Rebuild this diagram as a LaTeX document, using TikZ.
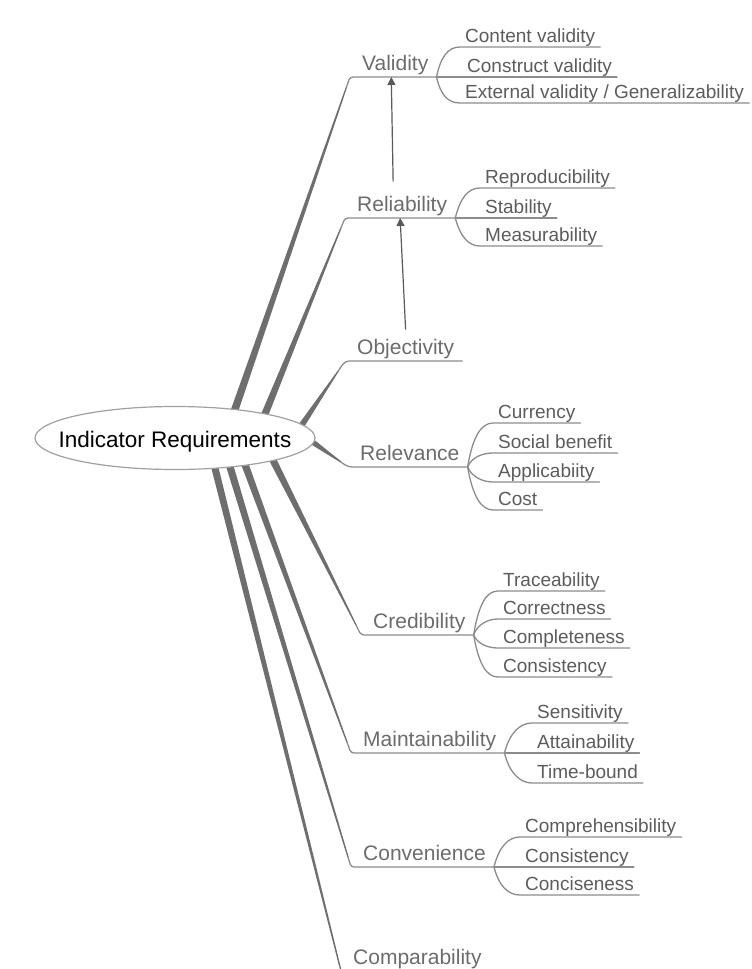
\documentclass[tikz,border=0pt]{standalone}
\usepackage{fontspec}
\setmainfont{Liberation Sans}
\usetikzlibrary{shapes.geometric,calc,arrows.meta}
\definecolor{branchgray}{HTML}{6E6E6E}
\definecolor{linegray}{HTML}{8C8C8C}
\definecolor{labgray}{HTML}{6C6C6C}
\definecolor{subgray}{HTML}{5C5C5C}
\definecolor{ellgray}{HTML}{A0A0A0}
\definecolor{arrgray}{HTML}{5A5A5A}
% tapered thick branch, horizontal half-widths
\newcommand\taperx[4]{%
  \fill[branchgray] ($(#1)+(-#3,0)$) -- ($(#2)+(-#4,0)$) -- ($(#2)+(#4,0)$) -- ($(#1)+(#3,0)$) -- cycle;}
% tapered thick branch, vertical half-widths
\newcommand\tapery[4]{%
  \fill[branchgray] ($(#1)+(0,-#3)$) -- ($(#2)+(0,-#4)$) -- ($(#2)+(0,#4)$) -- ($(#1)+(0,#3)$) -- cycle;}
\begin{document}
\begin{tikzpicture}[x=1pt,y=-1pt,
  root/.style={ellipse,draw=ellgray,line width=1.2pt,fill=white,minimum width=280pt,minimum height=63pt,inner sep=0pt,text height=18pt,text depth=0pt,font=\fontsize{22.5}{26}\selectfont,text=black},
  lone/.style={anchor=south west,inner xsep=8pt,inner ysep=0pt,text height=15pt,text depth=6pt,font=\fontsize{21}{25}\selectfont,text=labgray},
  ltwo/.style={anchor=south west,inner xsep=5pt,inner ysep=0pt,text height=13.5pt,text depth=4.5pt,font=\fontsize{19}{23}\selectfont,text=subgray},
  uline/.style={draw=linegray,line width=1.3pt,line cap=round},
  arr/.style={draw=arrgray,line width=1.2pt,-{Triangle[width=8pt,length=8pt]}}]
\useasboundingbox[fill=white] (0,0) rectangle (752,969);

% ---- level-1 labels
\node[lone] (val)  at (354,77)  {Validity};
\node[lone] (rel)  at (349,218) {Reliability};
\node[lone] (obj)  at (349,361) {Objectivity};
\node[lone] (rlv)  at (352,467) {Relevance};
\node[lone] (cred) at (365,635) {Credibility};
\node[lone] (mnt)  at (355,753) {Maintainability};
\node[lone] (conv) at (355,867) {Convenience};
\node[lone] (comp) at (345,971) {Comparability};

% ---- branch coordinates
\coordinate (vA) at (227.8,430);  \coordinate (vE) at (346.5,87);
\coordinate (rA) at (257.6,432);  \coordinate (rE) at (340.9,228);
\coordinate (oA) at (293,438);    \coordinate (oE) at (338.2,371);
\coordinate (lA) at (300,433);    \coordinate (lE) at (341.5,462.4);
\coordinate (cA) at (265.3,445);  \coordinate (cE) at (356,625);
\coordinate (mA) at (237.8,445);  \coordinate (mE) at (347.3,743);
\coordinate (nA) at (223.4,445);  \coordinate (nE) at (348,857);
\coordinate (pA) at (209.2,445);  \coordinate (pE) at (341,971);

% ---- thick tapered branches
\taperx{vA}{vE}{4.2}{0.65}
\taperx{rA}{rE}{4.2}{0.65}
\taperx{oA}{oE}{4.3}{0.7}
\tapery{lA}{lE}{4.6}{0.7}
\taperx{cA}{cE}{4.3}{0.65}
\taperx{mA}{mE}{4.1}{0.65}
\taperx{nA}{nE}{4.0}{0.65}
\taperx{pA}{pE}{3.8}{0.65}

% thin continuations into the underlines
\draw[uline,rounded corners=3pt] (vE) -- ([xshift=-4pt]val.south west) -- (val.south east);
\draw[uline,rounded corners=3pt] (rE) -- ([xshift=-4pt]rel.south west) -- (rel.south east);
\draw[uline,rounded corners=4pt] (oE) -- ([xshift=-4pt]obj.south west) -- (obj.south east);
\draw[uline,rounded corners=4pt] (lE) -- ([xshift=-4pt]rlv.south west) -- (rlv.south east);
\draw[uline,rounded corners=3pt] (cE) -- ([xshift=-4pt]cred.south west) -- (cred.south east);
\draw[uline,rounded corners=3pt] (mE) -- ([xshift=-4pt]mnt.south west) -- (mnt.south east);
\draw[uline,rounded corners=3pt] (nE) -- ([xshift=-4pt]conv.south west) -- (conv.south east);

% ---- root
\node[root] (root) at (175,438) {\makebox[0pt]{Indicator Requirements}};

% ---- Validity children
\node[ltwo] (cv)  at (460,47)  {Content validity};
\node[ltwo] (csv) at (462,77)  {Construct validity};
\node[ltwo] (ev)  at (460,103) {External validity / Generalizability};
\draw[uline] (val.south east) .. controls +(4,-20) and +(-12,0) .. (cv.south west) -- (cv.south east);
\draw[uline] (val.south east) -- (csv.south east);
\draw[uline] (val.south east) .. controls +(4,18) and +(-12,0) .. (ev.south west) -- (ev.south east);

% ---- Reliability children
\node[ltwo] (rep) at (480,188) {Reproducibility};
\node[ltwo] (stb) at (480,218) {Stability};
\node[ltwo] (mea) at (480,246) {Measurability};
\draw[uline] (rel.south east) .. controls +(5,-20) and +(-12,0) .. (rep.south west) -- (rep.south east);
\draw[uline] (rel.south east) -- (stb.south east);
\draw[uline] (rel.south east) .. controls +(5,18) and +(-12,0) .. (mea.south west) -- (mea.south east);

% ---- Relevance children
\node[ltwo] (cur) at (493,423) {Currency};
\node[ltwo] (soc) at (493,453) {Social benefit};
\node[ltwo] (app) at (493,482) {Applicabiity};
\node[ltwo] (cst) at (493,510) {Cost};
\draw[uline] (rlv.south east) .. controls +(5,-30) and +(-12,0) .. (cur.south west) -- (cur.south east);
\draw[uline] (rlv.south east) .. controls +(4,-10) and +(-10,0) .. (soc.south west) -- (soc.south east);
\draw[uline] (rlv.south east) .. controls +(4,10) and +(-10,0) .. (app.south west) -- (app.south east);
\draw[uline] (rlv.south east) .. controls +(5,29) and +(-12,0) .. (cst.south west) -- (cst.south east);

% ---- Credibility children
\node[ltwo] (trc) at (498,591) {Traceability};
\node[ltwo] (cor) at (498,619) {Correctness};
\node[ltwo] (cpl) at (498,648) {Completeness};
\node[ltwo] (cns) at (498,677) {Consistency};
\draw[uline] (cred.south east) .. controls +(5,-30) and +(-12,0) .. (trc.south west) -- (trc.south east);
\draw[uline] (cred.south east) .. controls +(4,-11) and +(-10,0) .. (cor.south west) -- (cor.south east);
\draw[uline] (cred.south east) .. controls +(4,9) and +(-10,0) .. (cpl.south west) -- (cpl.south east);
\draw[uline] (cred.south east) .. controls +(5,28) and +(-12,0) .. (cns.south west) -- (cns.south east);

% ---- Maintainability children
\node[ltwo] (sen) at (532,723) {Sensitivity};
\node[ltwo] (att) at (532,753) {Attainability};
\node[ltwo] (tmb) at (532,783) {Time-bound};
\draw[uline] (mnt.south east) .. controls +(5,-20) and +(-12,0) .. (sen.south west) -- (sen.south east);
\draw[uline] (mnt.south east) -- (att.south east);
\draw[uline] (mnt.south east) .. controls +(5,20) and +(-12,0) .. (tmb.south west) -- (tmb.south east);

% ---- Convenience children
\node[ltwo] (cph) at (520,837) {Comprehensibility};
\node[ltwo] (cst2) at (520,867) {Consistency};
\node[ltwo] (ccs) at (520,895) {Conciseness};
\draw[uline] (conv.south east) .. controls +(5,-20) and +(-12,0) .. (cph.south west) -- (cph.south east);
\draw[uline] (conv.south east) -- (cst2.south east);
\draw[uline] (conv.south east) .. controls +(5,19) and +(-12,0) .. (ccs.south west) -- (ccs.south east);

% ---- arrows between requirements
\draw[arr] ([xshift=-9pt,yshift=15pt]rel.north) -- ([xshift=-4pt]val.south);
\draw[arr] ([yshift=10pt]obj.north) -- ([xshift=-2pt]rel.south);
\end{tikzpicture}
\end{document}
